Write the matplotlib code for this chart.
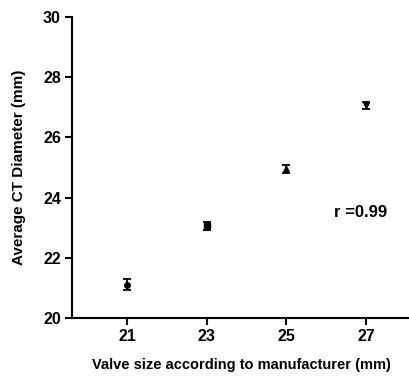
import numpy as np
from matplotlib import pyplot as plt

plt.rcParams['font.family'] = ['Liberation Sans', 'DejaVu Sans']
plt.rcParams['font.weight'] = 'bold'

# data
valve_size = [21, 23, 25, 27]
ct_mean = [21.1, 23.05, 24.95, 27.07]
ct_err = [0.18, 0.14, 0.12, 0.12]
markers = ['o', 's', '^', 'v']

fig = plt.figure(figsize=(4.1, 3.76), dpi=100)
ax = fig.add_axes([72/410, 1-318/376, 1-72/410, (318-17)/376])

for x, y, e, m in zip(valve_size, ct_mean, ct_err, markers):
    ax.errorbar(x, y, yerr=e, fmt=m, color='black', markersize=4,
                capsize=3, elinewidth=1.3, capthick=1.3, clip_on=False)

ax.text(26.2, 23.5, "r =0.99", fontsize=12, fontweight='bold', va='center')

ax.set_xlim(19.62, 28.1)
ax.set_ylim(20, 30)
ax.set_xticks(valve_size)
ax.set_yticks([20, 22, 24, 26, 28, 30])
ax.spines['top'].set_visible(False)
ax.spines['right'].set_visible(False)
for s in ['left', 'bottom']:
    ax.spines[s].set_linewidth(1.5)
ax.tick_params(direction='out', length=5, width=1.5, labelsize=11.5, pad=3)
for lab in ax.get_xticklabels() + ax.get_yticklabels():
    lab.set_fontweight('bold')

ax.set_xlabel("Valve size according to manufacturer (mm)", fontsize=10.5, fontweight='bold', labelpad=10)
ax.set_ylabel("Average CT Diameter (mm)", fontsize=11, fontweight='bold', labelpad=12)

fig.savefig("out.png", dpi=100)
